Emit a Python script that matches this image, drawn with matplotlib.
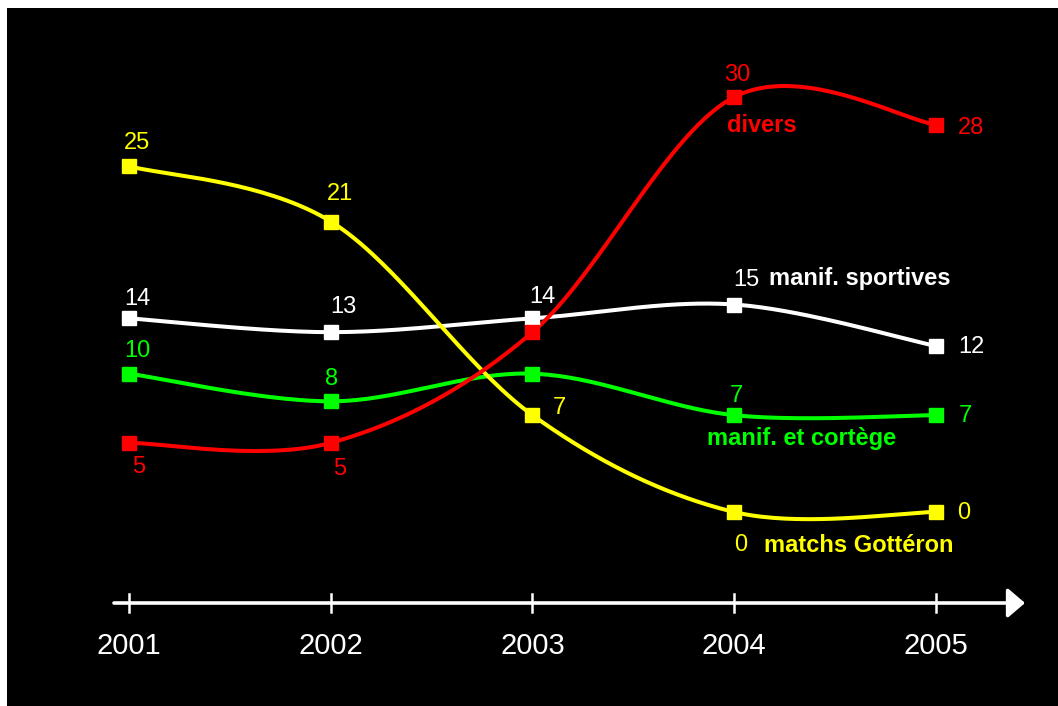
import numpy as np
import matplotlib
matplotlib.use("Agg")
import matplotlib.pyplot as plt
from matplotlib.patches import Rectangle

years = [2001, 2002, 2003, 2004, 2005]
divers = [5, 5, 13, 30, 28]
sportives = [14, 13, 14, 15, 12]
cortege = [10, 8, 10, 7, 7]
gotteron = [25, 21, 7, 0, 0]

series = [
    ("manif. sportives", sportives, "#ffffff"),
    ("manif. et cortège", cortege, "#00ff00"),
    ("matchs Gottéron", gotteron, "#ffff00"),
    ("divers", divers, "#ff0000"),
]

plt.rcParams['font.family'] = ['Liberation Sans', 'DejaVu Sans']

W, H = 1058, 706
fig = plt.figure(figsize=(W / 100, H / 100), dpi=100)
fig.patch.set_facecolor("white")
fig.patches.append(Rectangle((7 / W, 0), 1, 1 - 8 / H, transform=fig.transFigure,
                             facecolor="black", edgecolor="none", zorder=-10))

ax = fig.add_axes([0, 0, 1, 1])
ax.set_zorder(5)
ax.set_facecolor("none")
px_year = (936 - 129) / 4.0
px_unit = (512 - 97) / 30.0
ax.set_xlim(2001 - 129 / px_year, 2001 + (W - 129) / px_year)
ax.set_ylim((512 - H) / px_unit, 512 / px_unit)
ax.axis("off")


def px2x(px):
    return 2001 + (px - 129) / px_year


def py2y(py):
    return (512 - py) / px_unit


def smooth(xs, ys, n=40):
    p = np.column_stack([xs, ys]).astype(float)
    out = []
    for i in range(len(p) - 1):
        p0 = p[i - 1] if i > 0 else p[i]
        p1 = p[i]
        p2 = p[i + 1]
        p3 = p[i + 2] if i + 2 < len(p) else p[i + 1]
        b1 = p1 + (p2 - p0) / 6.0
        b2 = p2 - (p3 - p1) / 6.0
        t = np.linspace(0, 1, n)[:, None]
        seg = ((1 - t) ** 3) * p1 + 3 * ((1 - t) ** 2) * t * b1 + 3 * (1 - t) * t ** 2 * b2 + t ** 3 * p2
        out.append(seg if i == 0 else seg[1:])
    s = np.vstack(out)
    return s[:, 0], s[:, 1]


for name, vals, col in series:
    sx, sy = smooth(years, vals)
    ax.plot(sx, sy, color=col, lw=2.9, zorder=3, solid_capstyle="round")
    ax.plot(years, vals, ls="none", marker="s", ms=9.5, color=col, zorder=4)

fs = 17
# value labels: (text, px, py, color)
labels = [
    ("25", 137, 141, "#ffff00"), ("21", 340, 192, "#ffff00"), ("7", 559, 406, "#ffff00"),
    ("0", 741, 543, "#ffff00"), ("0", 964, 511, "#ffff00"),
    ("14", 137, 297, "#ffffff"), ("13", 343, 305, "#ffffff"), ("14", 542, 295, "#ffffff"),
    ("15", 746, 278, "#ffffff"), ("12", 971, 345, "#ffffff"),
    ("10", 137, 349, "#00ff00"), ("8", 332, 377, "#00ff00"), ("7", 736, 394, "#00ff00"),
    ("7", 965, 414, "#00ff00"),
    ("5", 139, 465, "#ff0000"), ("5", 340, 467, "#ff0000"), ("30", 737, 73, "#ff0000"),
    ("28", 971, 126, "#ff0000"),
]
for t, x, y, c in labels:
    ax.text(px2x(x), py2y(y + 2), t, color=c, fontsize=fs, ha="center", va="center", zorder=5)

bfs = 17
ax.text(px2x(727), py2y(126), "divers", color="#ff0000", fontsize=bfs, fontweight="bold",
        ha="left", va="center")
ax.text(px2x(769), py2y(278), "manif. sportives", color="#ffffff", fontsize=bfs,
        fontweight="bold", ha="left", va="center")
ax.text(px2x(802), py2y(439), "manif. et cortège", color="#00ff00", fontsize=bfs,
        fontweight="bold", ha="center", va="center")
ax.text(px2x(764), py2y(545), "matchs Gottéron", color="#ffff00", fontsize=bfs,
        fontweight="bold", ha="left", va="center")

# x axis with arrow
ax_y = py2y(603)
ax.annotate("", xy=(px2x(1025), ax_y), xytext=(px2x(114), ax_y),
            arrowprops=dict(arrowstyle="-|>,head_length=1.05,head_width=0.9",
                            color="white", lw=2.6, shrinkA=0, shrinkB=0))
for yr in years:
    ax.plot([yr, yr], [py2y(594), py2y(612)], color="white", lw=1.8)
    ax.text(yr, py2y(646), str(yr), color="white", fontsize=21, ha="center", va="center")

fig.savefig("out.png", dpi=100, facecolor=fig.get_facecolor())
